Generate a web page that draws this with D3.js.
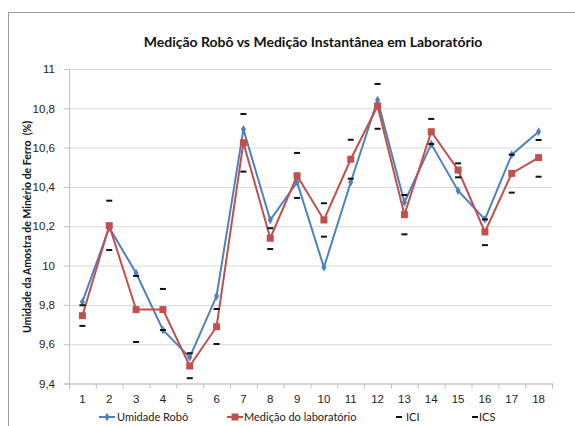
<!DOCTYPE html>
<html>
<head>
<meta charset="UTF-8">
<title>Medição Robô vs Medição Instantânea em Laboratório</title>
<script src="https://cdn.jsdelivr.net/npm/d3@7"></script>
<style>
  body { margin: 0; background: #fff; }
  svg { font-family: Lato, "Noto Sans", sans-serif; }
</style>
</head>
<body>
<svg class="chart" width="575" height="426"></svg>
<script>
// data
var amostras = [1, 2, 3, 4, 5, 6, 7, 8, 9, 10, 11, 12, 13, 14, 15, 16, 17, 18];
var umidadeRobo = [9.815, 10.193, 9.962, 9.672, 9.533, 9.845, 10.693, 10.232, 10.424, 9.991,
                   10.424, 10.842, 10.322, 10.618, 10.381, 10.235, 10.564, 10.681];
var medicaoLab = [9.745, 10.203, 9.776, 9.776, 9.489, 9.689, 10.625, 10.139, 10.457, 10.232,
                  10.541, 10.812, 10.259, 10.681, 10.486, 10.171, 10.469, 10.549];
var ics = [9.798, 10.330, 9.947, 9.881, 9.554, 9.779, 10.771, 10.190, 10.573, 10.317,
           10.640, 10.924, 10.359, 10.746, 10.520, 10.235, 10.564, 10.639];
var ici = [9.693, 10.079, 9.611, 9.672, 9.427, 9.601, 10.478, 10.084, 10.344, 10.147,
           10.442, 10.696, 10.159, 10.618, 10.449, 10.104, 10.371, 10.452];
var yTicks = [9.4, 9.6, 9.8, 10, 10.2, 10.4, 10.6, 10.8, 11];

var svg = d3.select(".chart");

// outer chart frame
svg.append("path")
  .attr("d", "M8.5,426 V12.5 H575")
  .attr("fill", "none")
  .attr("stroke", "#9a9a9a")
  .attr("stroke-width", 1);

var plot = {left: 69, right: 552, top: 69, bottom: 383.5};

var x = d3.scaleBand().domain(amostras).range([plot.left, plot.right]);
var xEdges = d3.scaleLinear().domain([0, amostras.length]).range([plot.left, plot.right]);
var y = d3.scaleLinear().domain([9.4, 11]).range([plot.bottom, plot.top]);

var pt = d3.formatLocale({decimal: ",", thousands: ".", grouping: [3], currency: ["", ""]});
var fmt = pt.format(".1~f");

// gridlines
svg.append("g")
  .attr("transform", "translate(" + plot.left + ",0)")
  .call(d3.axisLeft(y).tickValues(yTicks).tickSize(-(plot.right - plot.left)).tickFormat(""))
  .call(function(g){
    g.select(".domain").remove();
    g.selectAll("line").attr("stroke", "#d9d9d9");
  });

// y axis
svg.append("g")
  .attr("transform", "translate(" + plot.left + ",0)")
  .call(d3.axisLeft(y).tickValues(yTicks).tickSize(5).tickPadding(9).tickFormat(fmt))
  .call(function(g){
    g.select(".domain").attr("stroke", "#bfbfbf");
    g.selectAll("line").attr("stroke", "#bfbfbf");
    g.selectAll("text").attr("font-size", 11.5).attr("fill", "#222");
  });

// x axis: tick marks between categories
svg.append("g")
  .attr("transform", "translate(0," + plot.bottom + ")")
  .call(d3.axisBottom(xEdges).ticks(amostras.length).tickSize(5).tickFormat(""))
  .call(function(g){
    g.select(".domain").attr("stroke", "#bfbfbf");
    g.selectAll("line").attr("stroke", "#bfbfbf");
  });

// x axis labels
svg.append("g")
  .attr("transform", "translate(0," + plot.bottom + ")")
  .call(d3.axisBottom(x).tickSize(0).tickPadding(11))
  .call(function(g){
    g.select(".domain").remove();
    g.selectAll("text").attr("font-size", 11.5).attr("fill", "#222");
  });

var line = d3.line()
  .x(function(d, i){ return x(amostras[i]) + x.bandwidth() / 2; })
  .y(function(d){ return y(d); });

var blue = "#4f81bd", red = "#c0504d";

// Umidade Robô
svg.append("path")
  .datum(umidadeRobo)
  .attr("d", line)
  .attr("fill", "none")
  .attr("stroke", blue)
  .attr("stroke-width", 2);

var diamond = d3.symbol().type(d3.symbolDiamond).size(22);
svg.append("g").selectAll("path")
  .data(umidadeRobo)
  .enter().append("path")
  .attr("d", diamond)
  .attr("transform", function(d, i){
    return "translate(" + (x(amostras[i]) + x.bandwidth() / 2) + "," + y(d) + ")";
  })
  .attr("fill", blue);

// Medição do laboratório
svg.append("path")
  .datum(medicaoLab)
  .attr("d", line)
  .attr("fill", "none")
  .attr("stroke", red)
  .attr("stroke-width", 2);

svg.append("g").selectAll("rect")
  .data(medicaoLab)
  .enter().append("rect")
  .attr("x", function(d, i){ return x(amostras[i]) + x.bandwidth() / 2 - 3.5; })
  .attr("y", function(d){ return y(d) - 3.5; })
  .attr("width", 7)
  .attr("height", 7)
  .attr("fill", red);

// ICI / ICS dashes
[ici, ics].forEach(function(serie){
  svg.append("g").selectAll("rect")
    .data(serie)
    .enter().append("rect")
    .attr("x", function(d, i){ return x(amostras[i]) + x.bandwidth() / 2 - 3; })
    .attr("y", function(d){ return y(d) - 1; })
    .attr("width", 6)
    .attr("height", 2)
    .attr("fill", "#111");
});

// title
svg.append("text")
  .attr("x", 313)
  .attr("y", 47)
  .attr("text-anchor", "middle")
  .attr("font-size", 14)
  .attr("font-weight", "bold")
  .attr("fill", "#111")
  .text("Medição Robô vs Medição Instantânea em Laboratório");

// y label
svg.append("text")
  .attr("transform", "translate(31,227) rotate(-90)")
  .attr("text-anchor", "middle")
  .attr("font-size", 10.5)
  .attr("font-weight", "bold")
  .attr("fill", "#111")
  .style("white-space", "pre")
  .text("Umidade da Amostra de Minério de Ferro  (%)");

// legend
var ly = 417;
var legend = svg.append("g").attr("font-size", 11).attr("fill", "#222");

legend.append("line").attr("x1", 99).attr("x2", 115).attr("y1", ly).attr("y2", ly)
  .attr("stroke", blue).attr("stroke-width", 2);
legend.append("path").attr("d", diamond)
  .attr("transform", "translate(107," + ly + ")").attr("fill", blue);
legend.append("text").attr("x", 117).attr("y", ly + 4).text("Umidade Robô");

legend.append("line").attr("x1", 227).attr("x2", 243).attr("y1", ly).attr("y2", ly)
  .attr("stroke", red).attr("stroke-width", 2);
legend.append("rect").attr("x", 231.5).attr("y", ly - 3.5).attr("width", 7).attr("height", 7)
  .attr("fill", red);
legend.append("text").attr("x", 244).attr("y", ly + 4).text("Medição do laboratório");

legend.append("rect").attr("x", 396).attr("y", ly - 1).attr("width", 6).attr("height", 2).attr("fill", "#111");
legend.append("text").attr("x", 406).attr("y", ly + 4).text("ICI");

legend.append("rect").attr("x", 472).attr("y", ly - 1).attr("width", 6).attr("height", 2).attr("fill", "#111");
legend.append("text").attr("x", 479).attr("y", ly + 4).text("ICS");
</script>
</body>
</html>
